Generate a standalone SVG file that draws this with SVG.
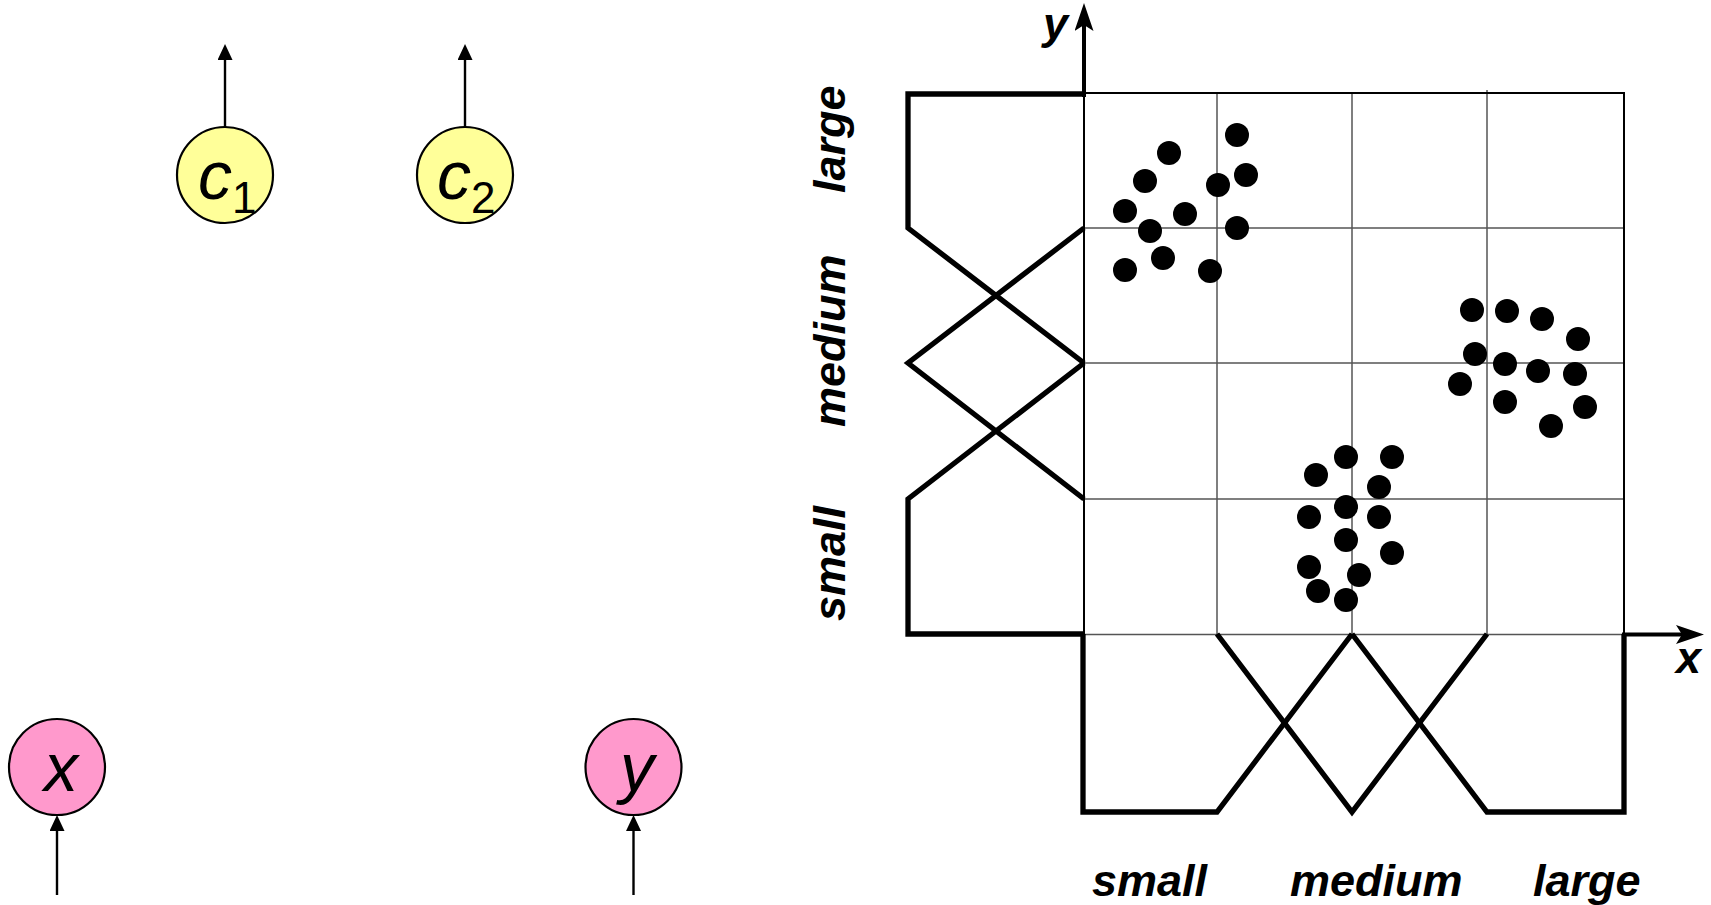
<svg xmlns="http://www.w3.org/2000/svg" width="1711" height="905" viewBox="0 0 1711 905">
  <defs>
    <style>
      .node { stroke: #000; stroke-width: 2.2; }
      .in { fill: #ff99cc; }
      .out { fill: #ffff99; }
      .lbl { font-family: "Liberation Sans", Arial, sans-serif; font-style: italic; fill: #000; }
      .big { font-size: 68px; }
      .sub { font-size: 44px; font-style: normal; }
      .edge { stroke: #000; stroke-width: 2.4; fill: none; marker-end: url(#tri); }
      .axis { stroke: #000; stroke-width: 4; fill: none; marker-end: url(#stealth); }
      .grid { stroke: #555; stroke-width: 1.5; fill: none; }
      .frame { stroke: #000; stroke-width: 2; fill: none; }
      .mf { stroke: #000; stroke-width: 5.3; fill: none; stroke-linejoin: miter; }
      .term { font-family: "Liberation Sans", Arial, sans-serif; font-size: 45px; font-weight: bold; font-style: italic; fill: #000; }
      .dot { fill: #000; }
    </style>
    <marker id="tri" markerUnits="userSpaceOnUse" markerWidth="16" markerHeight="15" viewBox="0 0 16 15" refX="0" refY="7.5" orient="auto">
      <path d="M0,0 L16,7.5 L0,15 z" fill="#000"/>
    </marker>
    <marker id="stealth" markerUnits="userSpaceOnUse" markerWidth="28" markerHeight="19" viewBox="0 0 28 19" refX="8" refY="9.5" orient="auto">
      <path d="M0,0 L28,9.5 L0,19 L6,9.5 z" fill="#000"/>
    </marker>
  </defs>

  <!-- connectors of the network -->
  <g id="connectors">
    <line class="edge" x1="225" y1="127" x2="225" y2="60"/>
    <line class="edge" x1="465" y1="127" x2="465" y2="60"/>
    <line class="edge" x1="57" y1="895" x2="57" y2="831"/>
    <line class="edge" x1="633.5" y1="895" x2="633.5" y2="831"/>
  </g>

  <!-- output nodes -->
  <g id="node-c1">
    <circle class="node out" cx="225" cy="175" r="48"/>
    <text class="lbl big" x="198" y="199">c</text>
    <text class="lbl sub" x="232" y="213">1</text>
  </g>
  <g id="node-c2">
    <circle class="node out" cx="465" cy="175" r="48"/>
    <text class="lbl big" x="437" y="199">c</text>
    <text class="lbl sub" x="471" y="213">2</text>
  </g>

  <!-- input nodes -->
  <g id="node-x">
    <circle class="node in" cx="57" cy="767" r="48"/>
    <text class="lbl big" x="61" y="791" text-anchor="middle">x</text>
  </g>
  <g id="node-y">
    <circle class="node in" cx="633.5" cy="767" r="48"/>
    <text class="lbl big" x="637" y="791" text-anchor="middle">y</text>
  </g>

  <!-- fuzzy grid partition of the input space -->
  <g id="partition">
    <g id="grid">
      <line class="grid" x1="1217" y1="93" x2="1217" y2="634"/>
      <line class="grid" x1="1352" y1="93" x2="1352" y2="634"/>
      <line class="grid" x1="1487" y1="90" x2="1487" y2="634"/>
      <line class="grid" x1="1084" y1="228" x2="1624" y2="228"/>
      <line class="grid" x1="1084" y1="363" x2="1624" y2="363"/>
      <line class="grid" x1="1084" y1="499" x2="1624" y2="499"/>
      <line class="grid" x1="1084" y1="634.5" x2="1624" y2="634.5"/>
      <polyline class="frame" points="1084,634 1084,93 1624,93 1624,634"/>
    </g>

    <!-- membership functions on y -->
    <g id="mf-y">
      <polyline class="mf" points="1084,94 908,94 908,228 1084,363"/>
      <polyline class="mf" points="1084,228 908,363 1084,499"/>
      <polyline class="mf" points="1084,363 908,499 908,634 1084,634"/>
    </g>

    <!-- membership functions on x -->
    <g id="mf-x">
      <polyline class="mf" points="1083,634 1083,812 1217,812 1352,634"/>
      <polyline class="mf" points="1217,634 1352,812 1487,634"/>
      <polyline class="mf" points="1352,634 1487,812 1624,812 1624,634"/>
    </g>

    <!-- axes -->
    <g id="axes">
      <line class="axis" x1="1084" y1="97" x2="1084" y2="23"/>
      <line class="axis" x1="1622" y1="634.5" x2="1684" y2="634.5"/>
      <text class="term" x="1043" y="39" font-size="38">y</text>
      <text class="term" x="1676" y="673" font-size="42">x</text>
    </g>

    <!-- linguistic terms -->
    <g id="terms">
      <text class="term" x="1092" y="896">small</text>
      <text class="term" x="1290" y="896">medium</text>
      <text class="term" x="1533" y="896">large</text>
      <text class="term" transform="translate(845,621) rotate(-90)">small</text>
      <text class="term" transform="translate(845,427) rotate(-90)">medium</text>
      <text class="term" transform="translate(845,193) rotate(-90)">large</text>
    </g>

    <!-- data samples -->
    <g id="samples">
      <circle class="dot" cx="1237" cy="135" r="12"/>
      <circle class="dot" cx="1169" cy="153" r="12"/>
      <circle class="dot" cx="1145" cy="181" r="12"/>
      <circle class="dot" cx="1246" cy="175" r="12"/>
      <circle class="dot" cx="1218" cy="185" r="12"/>
      <circle class="dot" cx="1125" cy="211" r="12"/>
      <circle class="dot" cx="1185" cy="214" r="12"/>
      <circle class="dot" cx="1150" cy="231" r="12"/>
      <circle class="dot" cx="1237" cy="228" r="12"/>
      <circle class="dot" cx="1163" cy="258" r="12"/>
      <circle class="dot" cx="1125" cy="270" r="12"/>
      <circle class="dot" cx="1210" cy="271" r="12"/>

      <circle class="dot" cx="1472" cy="310" r="12"/>
      <circle class="dot" cx="1507" cy="311" r="12"/>
      <circle class="dot" cx="1542" cy="319" r="12"/>
      <circle class="dot" cx="1578" cy="339" r="12"/>
      <circle class="dot" cx="1475" cy="354" r="12"/>
      <circle class="dot" cx="1505" cy="364" r="12"/>
      <circle class="dot" cx="1538" cy="371" r="12"/>
      <circle class="dot" cx="1575" cy="374" r="12"/>
      <circle class="dot" cx="1460" cy="384" r="12"/>
      <circle class="dot" cx="1505" cy="402" r="12"/>
      <circle class="dot" cx="1585" cy="407" r="12"/>
      <circle class="dot" cx="1551" cy="426" r="12"/>

      <circle class="dot" cx="1346" cy="457" r="12"/>
      <circle class="dot" cx="1392" cy="457" r="12"/>
      <circle class="dot" cx="1316" cy="475" r="12"/>
      <circle class="dot" cx="1379" cy="487" r="12"/>
      <circle class="dot" cx="1346" cy="507" r="12"/>
      <circle class="dot" cx="1309" cy="517" r="12"/>
      <circle class="dot" cx="1379" cy="517" r="12"/>
      <circle class="dot" cx="1346" cy="540" r="12"/>
      <circle class="dot" cx="1392" cy="553" r="12"/>
      <circle class="dot" cx="1309" cy="567" r="12"/>
      <circle class="dot" cx="1359" cy="575" r="12"/>
      <circle class="dot" cx="1318" cy="591" r="12"/>
      <circle class="dot" cx="1346" cy="600" r="12"/>
    </g>
  </g>
</svg>
